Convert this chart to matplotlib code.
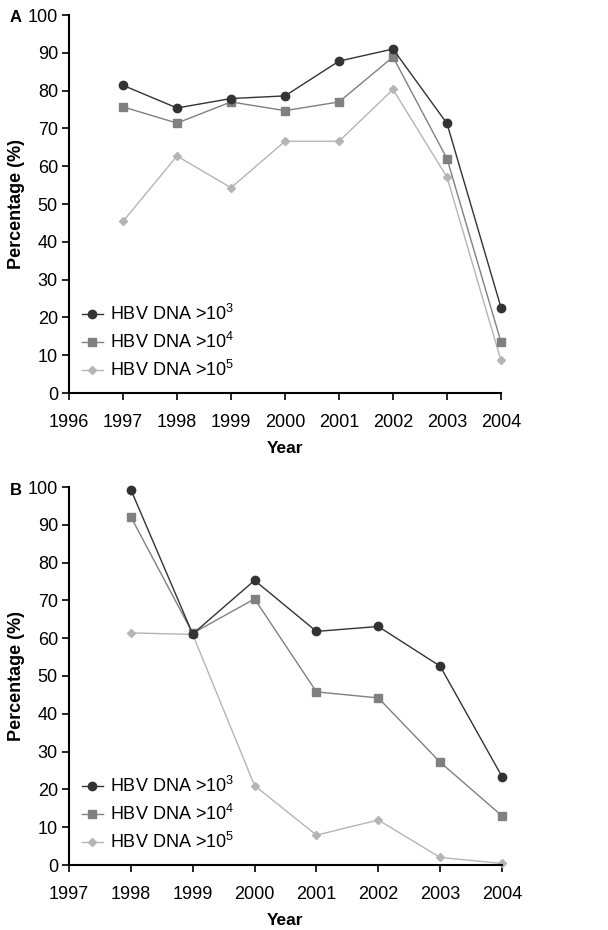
import matplotlib
matplotlib.use("Agg")
import matplotlib.pyplot as plt

plt.rcParams["font.family"] = ["Liberation Sans", "DejaVu Sans"]
plt.rcParams["mathtext.fontset"] = "custom"
plt.rcParams["mathtext.rm"] = "Liberation Sans"
plt.rcParams["mathtext.it"] = "Liberation Sans:bold:italic"

# Panel A
years_a = [1997, 1998, 1999, 2000, 2001, 2002, 2003, 2004]
a_1e3 = [81.4, 75.4, 77.9, 78.6, 87.8, 91.0, 71.3, 22.6]
a_1e4 = [75.7, 71.4, 77.0, 74.7, 77.0, 88.9, 62.0, 13.5]
a_1e5 = [45.4, 62.7, 54.3, 66.6, 66.6, 80.3, 57.1, 8.6]

# Panel B
years_b = [1998, 1999, 2000, 2001, 2002, 2003, 2004]
b_1e3 = [99.3, 61.1, 75.3, 61.8, 63.1, 52.6, 23.4]
b_1e4 = [92.1, 61.3, 70.4, 45.8, 44.2, 27.2, 13.0]
b_1e5 = [61.4, 61.0, 21.0, 7.9, 11.9, 2.0, 0.4]

labels = [r"HBV DNA >10$^{\mathit{3}}$", r"HBV DNA >10$^{\mathit{4}}$",
          r"HBV DNA >10$^{\mathit{5}}$"]
styles = [
    dict(color="#333333", marker="o", markersize=6, linewidth=1.0, zorder=4),
    dict(color="#808080", marker="s", markersize=6, linewidth=1.0, zorder=3),
    dict(color="#b5b5b5", marker="D", markersize=4, linewidth=1.0, zorder=2),
]

W, H = 608, 930
fig = plt.figure(figsize=(W / 100, H / 100), dpi=100)


def make_ax(left, top, right, bottom):
    return fig.add_axes([left / W, 1 - bottom / H, (right - left) / W, (bottom - top) / H])


def style_ax(ax, xmin, xmax):
    ax.set_xlim(xmin, xmax)
    ax.set_ylim(0, 100)
    ax.set_xticks(range(xmin, xmax + 1))
    ax.set_yticks(range(0, 101, 10))
    for s in ("top", "right"):
        ax.spines[s].set_visible(False)
    for s in ("left", "bottom"):
        ax.spines[s].set_linewidth(1.5)
        ax.spines[s].set_clip_on(False)
    ax.tick_params(axis="both", direction="out", length=5, width=1.2, labelsize=13)
    ax.tick_params(axis="x", pad=10)
    ax.tick_params(axis="y", pad=3)
    ax.set_xlabel("Year", fontsize=12.5, fontweight="bold", labelpad=7)
    ax.set_ylabel("Percentage (%)", fontsize=13, fontweight="bold", labelpad=2)
    ax.legend(loc="lower left", bbox_to_anchor=(0.0, 0.0), frameon=False, fontsize=13,
              handlelength=1.2, handletextpad=0.35, labelspacing=0.45, borderaxespad=0.3)


ax_a = make_ax(69, 15, 501, 393)
for vals, lab, st in zip([a_1e3, a_1e4, a_1e5], labels, styles):
    ax_a.plot(years_a, vals, label=lab, clip_on=False, **st)
style_ax(ax_a, 1996, 2004)

ax_b = make_ax(69, 487, 502, 865)
for vals, lab, st in zip([b_1e3, b_1e4, b_1e5], labels, styles):
    ax_b.plot(years_b, vals, label=lab, clip_on=False, **st)
style_ax(ax_b, 1997, 2004)

fig.text(10 / W, 1 - 18 / H, "A", fontsize=12, fontweight="bold", va="center", ha="left")
fig.text(10 / W, 1 - 490 / H, "B", fontsize=12, fontweight="bold", va="center", ha="left")

fig.savefig("out.png", dpi=100, facecolor="white")
